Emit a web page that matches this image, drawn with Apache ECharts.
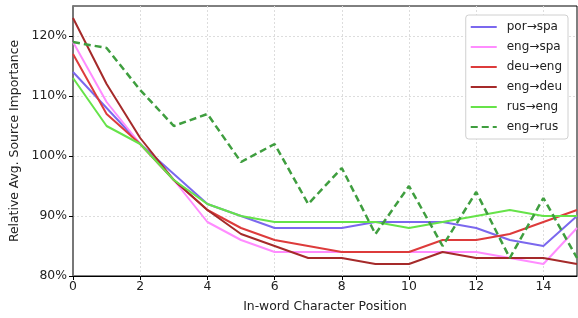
<!DOCTYPE html>
<html>
<head>
<meta charset="utf-8">
<script src="https://cdn.jsdelivr.net/npm/echarts@6/dist/echarts.min.js"></script>
<style>
  html, body { margin: 0; padding: 0; background: #ffffff; }
  #chart { width: 578px; height: 318px; }
</style>
</head>
<body>
<div id="chart"></div>
<script>
// positions 0..15
var positions = [0, 1, 2, 3, 4, 5, 6, 7, 8, 9, 10, 11, 12, 13, 14, 15];

var porSpa = [114, 108, 102, 97, 92, 90, 88, 88, 88, 89, 89, 89, 88, 86, 85, 90];
var engSpa = [119, 109, 102, 96, 89, 86, 84, 84, 84, 84, 84, 84, 84, 83, 82, 88];
var deuEng = [117, 107, 102, 96, 91, 88, 86, 85, 84, 84, 84, 86, 86, 87, 89, 91];
var engDeu = [123, 112, 103, 96, 91, 87, 85, 83, 83, 82, 82, 84, 83, 83, 83, 82];
var rusEng = [113, 105, 102, 96, 92, 90, 89, 89, 89, 89, 88, 89, 90, 91, 90, 90];
var engRus = [119, 118, 111, 105, 107, 99, 102, 92, 98, 87, 95, 85, 94, 83, 93, 83];

var yTicks = [80, 90, 100, 110, 120];

function pairs(vals) {
    return positions.map(function (p, i) { return [p, vals[i]]; });
}

function makeLine(name, vals, color, dashed) {
    return {
        name: name,
        type: 'line',
        data: pairs(vals),
        symbol: 'none',
        silent: true,
        lineStyle: {
            color: color,
            width: dashed ? 2.5 : 2,
            type: dashed ? [7, 4] : 'solid'
        },
        itemStyle: { color: color }
    };
}

var myChart = echarts.init(document.getElementById('chart'));

var font = 'DejaVu Sans';
var fs = 12.4;

var option = {
    animation: false,
    backgroundColor: '#ffffff',
    grid: {
        left: 73, right: 1, top: 6, bottom: 40,
        show: true,
        borderColor: '#000000',
        borderWidth: 1
    },
    legend: {
        orient: 'vertical',
        right: 10,
        top: 15,
        itemWidth: 26,
        itemHeight: 10,
        itemGap: 8,
        padding: [6, 6, 6, 4],
        backgroundColor: '#ffffff',
        borderColor: '#d0d0d0',
        borderWidth: 1,
        borderRadius: 3,
        itemStyle: { opacity: 0 },
        textStyle: { fontFamily: font, fontSize: 12, lineHeight: 10, color: '#222222', padding: [0, 0, 0, 5] },
        data: ['por→spa', 'eng→spa', 'deu→eng', 'eng→deu', 'rus→eng', 'eng→rus']
    },
    xAxis: {
        type: 'value',
        min: 0,
        max: 15,
        interval: 2,
        name: 'In-word Character Position',
        nameLocation: 'middle',
        nameGap: 25,
        nameTextStyle: { fontFamily: font, fontSize: fs, color: '#222222' },
        axisLine: { show: true, lineStyle: { color: '#000000', width: 1 } },
        axisTick: { show: true, length: 4, lineStyle: { color: '#000000' } },
        axisLabel: { fontFamily: font, fontSize: fs, color: '#222222', margin: 5, showMaxLabel: false },
        splitLine: { show: true, showMaxLine: false, showMinLine: false, lineStyle: { color: '#dddddd', type: [2, 2], width: 1 } }
    },
    yAxis: {
        type: 'value',
        min: yTicks[0],
        max: 125,
        interval: 10,
        name: 'Relative Avg. Source Importance',
        nameLocation: 'middle',
        nameGap: 46,
        nameTextStyle: { fontFamily: font, fontSize: fs, color: '#222222' },
        axisLine: { show: true, lineStyle: { color: '#777777', width: 2 } },
        axisTick: { show: true, length: 4, lineStyle: { color: '#000000' } },
        axisLabel: {
            fontFamily: font, fontSize: fs, color: '#222222', margin: 6, showMaxLabel: false,
            formatter: function (v) { return v + '%'; }
        },
        splitLine: { show: true, showMaxLine: false, showMinLine: false, lineStyle: { color: '#dddddd', type: [2, 2], width: 1 } }
    },
    series: [
        makeLine('por→spa', porSpa, '#7b68ee', false),
        makeLine('eng→spa', engSpa, '#ff8cff', false),
        makeLine('deu→eng', deuEng, '#dd3b3b', false),
        makeLine('eng→deu', engDeu, '#a52a2a', false),
        makeLine('rus→eng', rusEng, '#66e349', false),
        makeLine('eng→rus', engRus, '#3f9e3f', true)
    ]
};

option && myChart.setOption(option);

window.onresize = function () {
    myChart.resize();
};
</script>
</body>
</html>
